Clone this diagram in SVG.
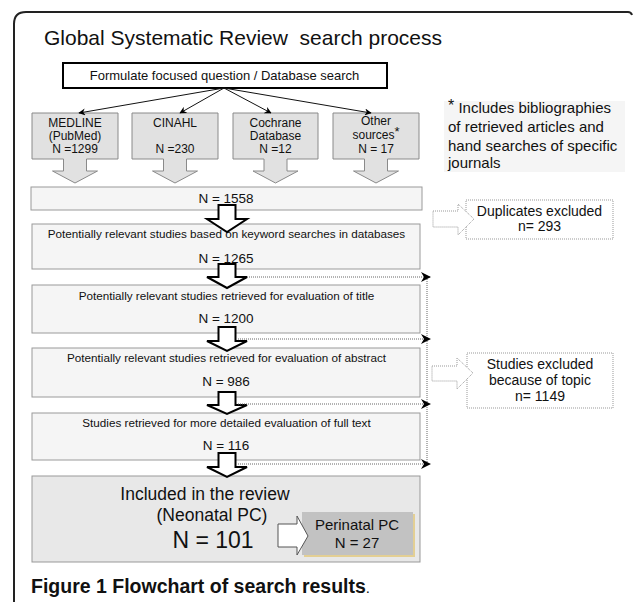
<svg xmlns="http://www.w3.org/2000/svg" width="633" height="602" viewBox="0 0 633 602">
<style>
text{font-family:"Liberation Sans",Arial,sans-serif;fill:#111}
.c{text-anchor:middle}
.src{fill:#e1e1e1;stroke:#8a8a8a;stroke-width:1}
.stage{fill:#f5f5f5;stroke:#9a9a9a;stroke-width:1}
.blk{fill:#fff;stroke:#000;stroke-width:2;stroke-linejoin:miter}
.dot{fill:none;stroke:#666;stroke-width:1;stroke-dasharray:1 1}
.dotbox{fill:#fff;stroke:#999;stroke-width:1;stroke-dasharray:1 1}
.ln{stroke:#111;stroke-width:1;fill:none}
.s12{font-size:12px}
.s11{font-size:11.7px}
.s13{font-size:13.5px}
.s14{font-size:14px}
.s15{font-size:15px}
</style>
<defs>
<marker id="ah" viewBox="0 0 10 10" refX="9" refY="5" markerWidth="7" markerHeight="7" orient="auto" markerUnits="userSpaceOnUse">
<path d="M0,0 L10,5 L0,10 L3,5 Z" fill="#000"/>
</marker>
</defs>

<path d="M14,602 V24 Q14,12 26,12 H628 Q631,12 632,15" fill="none" stroke="#222" stroke-width="2"/>
<text x="44" y="45" style="font-size:21px" xml:space="preserve">Global Systematic Review  search process</text>

<g id="formulate">
<rect x="63" y="63" width="324" height="25" fill="#fff" stroke="#000" stroke-width="2"/>
<text class="c" x="224.5" y="80" style="font-size:13px">Formulate focused question / Database search</text>
</g>

<g id="medline">
<path class="src" d="M32,113 H118 V159 H86.5 V171 H97.5 L75,183 L52.5,171 H63.5 V159 H32 Z"/>
<text class="c s12" x="75" y="127">MEDLINE</text>
<text class="c s12" x="75" y="140">(PubMed)</text>
<text class="c s12" x="75" y="153">N =1299</text>
</g>
<g id="cinahl">
<path class="src" d="M132,113 H218 V159 H186.5 V171 H197.5 L175,183 L152.5,171 H163.5 V159 H132 Z"/>
<text class="c s12" x="175" y="127">CINAHL</text>
<text class="c s12" x="175" y="153">N =230</text>
</g>
<g id="cochrane">
<path class="src" d="M233,113 H318 V159 H287 V171 H298 L275.5,183 L253,171 H264 V159 H233 Z"/>
<text class="c s12" x="275.5" y="127">Cochrane</text>
<text class="c s12" x="275.5" y="140">Database</text>
<text class="c s12" x="275.5" y="153">N =12</text>
</g>
<g id="other">
<path class="src" d="M333,113 H419 V159 H387.5 V171 H398.5 L376,183 L353.5,171 H364.5 V159 H333 Z"/>
<text class="c s12" x="376" y="125">Other</text>
<text class="c s12" x="376" y="139">sources<tspan dy="-3" style="font-size:13px">*</tspan></text>
<text class="c s12" x="376" y="153">N = 17</text>
</g>

<g id="note">
<rect x="444" y="101" width="181" height="71" fill="#f5f5f5"/>
<text x="448" y="113" class="s15"><tspan dy="-2" style="font-size:16px">*</tspan><tspan dy="2"> Includes bibliographies</tspan></text>
<text x="448" y="132" class="s15">of retrieved articles and</text>
<text x="448" y="151" class="s15">hand searches of specific</text>
<text x="448" y="168" class="s15">journals</text>
</g>

<g id="n1558">
<rect class="stage" x="31" y="187" width="391" height="23"/>
<text class="c s13" x="226" y="203">N = 1558</text>
</g>
<g id="keyword">
<rect class="stage" x="32" y="224" width="388" height="45"/>
<text class="c s11" x="226.5" y="238">Potentially relevant studies based on keyword searches in databases</text>
<text class="c s13" x="226" y="263">N = 1265</text>
</g>
<g id="title">
<rect class="stage" x="32" y="285" width="388" height="48"/>
<text class="c s11" x="226.5" y="300">Potentially relevant studies retrieved for evaluation of title</text>
<text class="c s13" x="226" y="323">N = 1200</text>
</g>
<g id="abstract">
<rect class="stage" x="32" y="348" width="388" height="49"/>
<text class="c s11" x="226.5" y="362">Potentially relevant studies retrieved for evaluation of abstract</text>
<text class="c s13" x="226" y="386">N = 986</text>
</g>
<g id="fulltext">
<rect class="stage" x="32" y="413" width="388" height="47"/>
<text class="c s11" x="226.5" y="427">Studies retrieved for more detailed evaluation of full text</text>
<text class="c s13" x="226" y="450">N = 116</text>
</g>

<g id="included">
<rect x="32" y="476" width="388" height="86" fill="#e8e8e8" stroke="#999" stroke-width="1"/>
<text class="c" x="205" y="500" style="font-size:17.5px">Included in the review</text>
<text class="c" x="212" y="521" style="font-size:17.5px">(Neonatal PC)</text>
<text class="c" x="213" y="548" style="font-size:23px">N = 101</text>
</g>
<g id="perinatal">
<rect x="304" y="514" width="111" height="43" fill="#e3cf94"/>
<rect x="302" y="512" width="111" height="43" fill="#c2c2c2"/>
<text class="c s15" x="357" y="530">Perinatal PC</text>
<text class="c s15" x="357" y="548">N = 27</text>
</g>

<g id="duplicates">
<rect class="dotbox" x="466" y="200" width="147" height="39"/>
<text class="c s14" x="539.5" y="216">Duplicates excluded</text>
<text class="c s14" x="539.5" y="231">n= 293</text>
</g>
<g id="topic">
<rect class="dotbox" x="467" y="353" width="146" height="55"/>
<text class="c s14" x="540" y="369">Studies excluded</text>
<text class="c s14" x="540" y="385">because of topic</text>
<text class="c s14" x="540" y="401">n= 1149</text>
</g>

<g id="connectors">
<line class="ln" x1="224" y1="88" x2="79" y2="113" marker-end="url(#ah)"/>
<line class="ln" x1="224" y1="88" x2="180" y2="113" marker-end="url(#ah)"/>
<line class="ln" x1="224" y1="88" x2="271" y2="113" marker-end="url(#ah)"/>
<line class="ln" x1="224" y1="88" x2="371" y2="113" marker-end="url(#ah)"/>

<path class="blk" d="M218.5,205 H235.5 V219 H247 L227,232 L207,219 H218.5 Z"/>
<path class="blk" d="M218.5,264 H235.5 V277 H247 L227,288 L207,277 H218.5 Z"/>
<path class="blk" d="M218.5,327 H235.5 V341 H247 L227,351 L207,341 H218.5 Z"/>
<path class="blk" d="M218.5,392 H235.5 V405 H247 L227,414 L207,405 H218.5 Z"/>
<path class="blk" d="M218.5,453 H235.5 V467 H247 L227,477 L207,467 H218.5 Z"/>

<path class="dot" d="M247,277 H430 M238,339 H430 M238,404 H430 M238,464 H430 M427,277 V464"/>
<path d="M421,272 L431,277 L421,282 L424,277 Z M421,334 L431,339 L421,344 L424,339 Z M421,399 L431,404 L421,409 L424,404 Z M421,459 L431,464 L421,469 L424,464 Z" fill="#000"/>

<path class="dotbox" d="M433,211 H458 V204 L474,219 L458,235 V227 H433 Z"/>
<path class="dotbox" d="M432,366 H457 V358 L473,373 L457,389 V381 H432 Z"/>

<path d="M278,524 H297 V516 L308,536 L297,555 V547 H278 Z" fill="#fff" stroke="#555" stroke-width="1"/>
</g>

<text x="31" y="593" style="font-size:19.5px;font-weight:bold">Figure 1 Flowchart of search results<tspan style="font-weight:normal;font-size:15px">.</tspan></text>
</svg>
